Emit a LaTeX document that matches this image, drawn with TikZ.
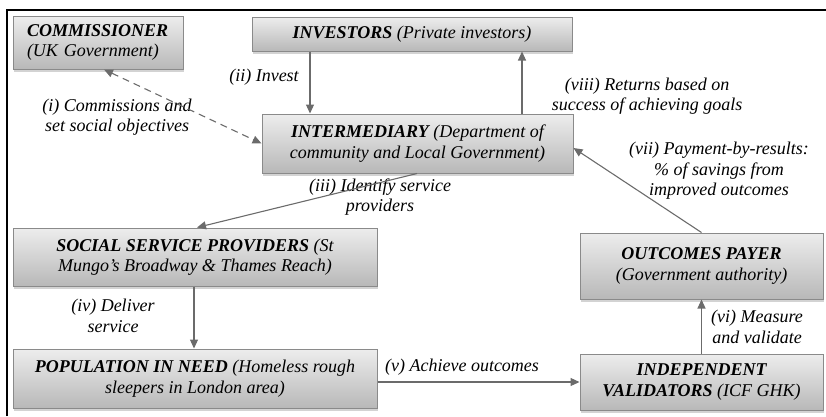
\documentclass[tikz,border=0pt]{standalone}
\usepackage{fontspec}
\setmainfont{Liberation Serif}
\usetikzlibrary{arrows.meta,shadows}
\definecolor{boxtop}{HTML}{EDEDED}
\definecolor{boxbot}{HTML}{B8B8B8}
\definecolor{boxborder}{HTML}{8A8A8A}
\definecolor{arrowgray}{HTML}{6B6B6B}
\begin{document}
\begin{tikzpicture}[x=1pt,y=-1pt,
  box/.style={draw=boxborder, line width=1pt, top color=boxtop, bottom color=boxbot,
    drop shadow={shadow xshift=1pt, shadow yshift=-2.5pt, opacity=0.35},
    inner sep=0pt, align=center, font=\itshape\fontsize{18}{20.5}\selectfont},
  lbl/.style={align=center, inner sep=0pt, font=\itshape\fontsize{18}{20.5}\selectfont},
  con/.style={draw=arrowgray, line width=1.1pt, -{Triangle[length=9pt,width=8pt]}},
  dcon/.style={draw=arrowgray, line width=1.1pt, dash pattern=on 7pt off 5pt,
    {Triangle[length=9pt,width=8pt]}-{Triangle[length=9pt,width=8pt]}}]
\useasboundingbox (0,0) rectangle (826,416);
\draw[line width=1.6pt] (7,416) -- (7,10) -- (826,10);

\node[box, minimum width=170pt, minimum height=53pt, text width=142pt, align=left] (comm) at (98,42.5)
  {\textbf{COMMISSIONER}\\(UK Government)};
\node[box, minimum width=320pt, minimum height=34pt] (inv) at (412,34)
  {\textbf{INVESTORS} (Private investors)};
\node[box, minimum width=311pt, minimum height=59pt] (inter) at (417.5,143.5)
  {\textbf{INTERMEDIARY} (Department of\\community and Local Government)};
\node[box, minimum width=364pt, minimum height=58pt] (ssp) at (195,257)
  {\textbf{SOCIAL SERVICE PROVIDERS} (St\\Mungo’s Broadway \& Thames Reach)};
\node[box, minimum width=364pt, minimum height=59pt] (pop) at (195,378.5)
  {\textbf{POPULATION IN NEED} (Homeless rough\\sleepers in London area)};
\node[box, minimum width=243pt, minimum height=66pt] (op) at (701.5,266)
  {\textbf{OUTCOMES PAYER}\\(Government authority)};
\node[box, minimum width=243pt, minimum height=56pt] (iv) at (701.5,382)
  {\textbf{INDEPENDENT}\\\textbf{VALIDATORS} (ICF GHK)};

\node[lbl] (l1) at (117,117) {(i) Commissions and\\set social objectives};
\node[lbl] (l2) at (264,77) {(ii) Invest};
\node[lbl] (l3) at (380,197) {(iii) Identify service\\providers};
\node[lbl] (l4) at (113,316) {(iv) Deliver\\service};
\node[lbl] (l5) at (462,367) {(v) Achieve outcomes};
\node[lbl] (l6) at (757,327) {(vi) Measure\\and validate};
\node[lbl] (l7) at (719,171) {(vii) Payment-by-results:\\\% of savings from\\improved outcomes};
\node[lbl] (l8) at (647,96) {(viii) Returns based on\\success of achieving goals};

\draw[dcon] (comm.south -| 104,0) -- (inter.west);
\draw[con] (inv.south -| 310,0) -- (inter.north -| 310,0);
\draw[con] (inter.north -| 522,0) -- (inv.south -| 522,0);
\draw[con] (inter.south -| 417,0) -- (ssp.north -| 197,0);
\draw[con] (ssp.south -| 194,0) -- (pop.north -| 194,0);
\draw[con] (pop.east |- 0,382) -- (iv.west |- 0,382);
\draw[con] (iv.north) -- (op.south);
\draw[con] (op.north) -- (inter.east |- 0,148);
\end{tikzpicture}
\end{document}
